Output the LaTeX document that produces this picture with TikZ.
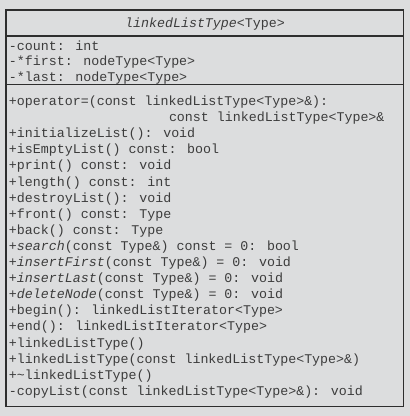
\documentclass[tikz,border=0pt]{standalone}
\usepackage{fontspec}
\newfontfamily\umlmono{Liberation Mono}
\definecolor{bggray}{HTML}{DCDDDE}
\definecolor{txtgray}{HTML}{3C3C3C}
\definecolor{linegray}{HTML}{2E2E2E}
\begin{document}
\begin{tikzpicture}[x=1pt,y=-1pt,
  umltext/.style={anchor=base west,inner sep=0pt,outer sep=0pt,text=txtgray,font=\umlmono\fontsize{13.3}{16}\selectfont},
  umltitle/.style={anchor=base,inner sep=0pt,outer sep=0pt,text=txtgray,font=\umlmono\fontsize{13.3}{16}\selectfont},
  boxline/.style={draw=linegray,line width=1.2pt}]
\fill[bggray] (0,0) rectangle (410,416);
\useasboundingbox (0,0) rectangle (410,416);
\draw[boxline] (6,10) rectangle (403.5,406.5);
\coordinate (d1l) at (6,36); \coordinate (d1r) at (403.5,36);
\coordinate (d2l) at (6,84.5); \coordinate (d2r) at (403.5,84.5);
\draw[boxline] (d1l) -- (d1r);
\draw[boxline] (d2l) -- (d2r);
\node[umltitle] (title) at (205,27.5) {\textit{linkedListType}<Type>};
\node[umltext] (a1) at (9,50) {-count: int};
\node[umltext] (a2) at (9,65.7) {-*first: nodeType<Type>};
\node[umltext] (a3) at (9,81.3) {-*last: nodeType<Type>};
\foreach \i/\t in {
 0/{+operator=(const linkedListType<Type>\&):},
 2/{+initializeList(): void},
 3/{+isEmptyList() const: bool},
 4/{+print() const: void},
 5/{+length() const: int},
 6/{+destroyList(): void},
 7/{+front() const: Type},
 8/{+back() const: Type},
 9/{+\textit{search}(const Type\&) const = 0: bool},
 10/{+\textit{insertFirst}(const Type\&) = 0: void},
 11/{+\textit{insertLast}(const Type\&) = 0: void},
 12/{+\textit{deleteNode}(const Type\&) = 0: void},
 13/{+begin(): linkedListIterator<Type>},
 14/{+end(): linkedListIterator<Type>},
 15/{+linkedListType()},
 16/{+linkedListType(const linkedListType<Type>\&)},
 17/{+\textasciitilde linkedListType()},
 18/{-copyList(const linkedListType<Type>\&): void}}
 {\node[umltext] (m\i) at (9,105.5+16.1*\i) {\t};}
\node[umltext] (m1) at (169,105.5+16.1) {const linkedListType<Type>\&};
\end{tikzpicture}
\end{document}
